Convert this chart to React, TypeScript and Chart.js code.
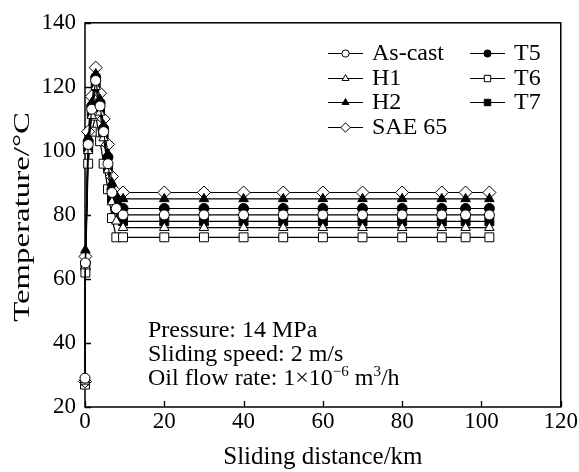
import React, { useEffect, useRef } from 'react';
import { Chart, registerables } from 'chart.js';
import { drawPoint } from 'chart.js/helpers';

Chart.register(...registerables);

// ---- data ----
const distanceKm = [0, 0.1, 0.8, 1.7, 2.7, 3.8, 4.7, 5.8, 6.8, 7.9, 9.6, 20, 30, 40, 50, 60, 70, 80, 90, 96, 102];

const asCast = [29, 65, 102, 113, 122, 114, 106, 96, 87, 82, 80, 80, 80, 80, 80, 80, 80, 80, 80, 80, 80];
const h1 = [28, 64, 100, 111, 120, 112, 104, 94, 84, 78, 76, 76, 76, 76, 76, 76, 76, 76, 76, 76, 76];
const h2 = [28.5, 69, 104, 115, 124, 116, 108, 99, 90, 86, 85, 85, 85, 85, 85, 85, 85, 85, 85, 85, 85];
const sae65 = [28, 67, 106, 117, 126, 118, 110, 102, 92, 87, 87, 87, 87, 87, 87, 87, 87, 87, 87, 87, 87];
const t5 = [28, 65, 103, 114, 123, 115, 107, 98, 88, 84, 82, 82, 82, 82, 82, 82, 82, 82, 82, 82, 82];
const t6 = [27, 62, 96, 106, 111, 103, 96, 88, 79, 73, 73, 73, 73, 73, 73, 73, 73, 73, 73, 73, 73];
const t7 = [28, 64, 101, 112, 121, 113, 105, 95, 85, 80, 78, 78, 78, 78, 78, 78, 78, 78, 78, 78, 78];

const seriesNames = ['As-cast', 'H1', 'H2', 'SAE 65', 'T5', 'T6', 'T7'];
const seriesValues = [asCast, h1, h2, sae65, t5, t6, t7];

const xTickValues = [0, 20, 40, 60, 80, 100, 120];
const yTickValues = [20, 40, 60, 80, 100, 120, 140];

const xTitle = 'Sliding distance/km';
const yTitle = 'Temperature/°C';
const noteLines = ['Pressure: 14 MPa', 'Sliding speed: 2 m/s'];

// ---- styles ----
const FONT = '"Liberation Serif", "Times New Roman", serif';
const markerStyles = [
  { pointStyle: 'circle', radius: 5, fill: '#ffffff' },
  { pointStyle: 'triangle', radius: 5.5, fill: '#ffffff' },
  { pointStyle: 'triangle', radius: 5.5, fill: '#000000' },
  { pointStyle: 'rectRot', radius: 6.5, fill: '#ffffff' },
  { pointStyle: 'circle', radius: 5, fill: '#000000' },
  { pointStyle: 'rect', radius: 6.3, fill: '#ffffff' },
  { pointStyle: 'rect', radius: 6.3, fill: '#000000' },
];
const legendColumns = [[0, 1, 2, 3], [4, 5, 6]];

const decorPlugin = {
  id: 'decor',
  beforeDatasetsDraw(chart: any) {
    const { ctx, chartArea: a, scales } = chart;
    ctx.save();
    ctx.strokeStyle = '#000';
    ctx.lineWidth = 1.5;
    ctx.strokeRect(a.left, a.top, a.right - a.left, a.bottom - a.top);
    ctx.lineWidth = 1.3;
    ctx.beginPath();
    for (const v of yTickValues) {
      const py = Math.round(scales.y.getPixelForValue(v)) + 0.5;
      ctx.moveTo(a.left, py);
      ctx.lineTo(a.left + 6, py);
    }
    for (const v of xTickValues) {
      const px = Math.round(scales.x.getPixelForValue(v)) + 0.5;
      ctx.moveTo(px, a.bottom);
      ctx.lineTo(px, a.bottom - 6);
    }
    ctx.stroke();
    ctx.restore();
  },
  afterDraw(chart: any) {
    const { ctx, chartArea: a } = chart;
    ctx.save();
    // y-axis title (stretched along its length like the original)
    ctx.save();
    ctx.translate(23, (a.top + a.bottom) / 2 + 2);
    ctx.rotate(-Math.PI / 2);
    ctx.scale(1.37, 1);
    ctx.font = `24px ${FONT}`;
    ctx.fillStyle = '#000';
    ctx.textAlign = 'center';
    ctx.textBaseline = 'middle';
    ctx.fillText(yTitle, 0, 0);
    ctx.restore();
    // legend
    const colX = [328, 470];
    const rowY = [53, 78, 102, 127];
    ctx.font = `24px ${FONT}`;
    ctx.textBaseline = 'middle';
    ctx.textAlign = 'left';
    legendColumns.forEach((col, ci) => {
      col.forEach((si, ri) => {
        const x0 = colX[ci];
        const y = rowY[ri];
        ctx.strokeStyle = '#000';
        ctx.lineWidth = 1.2;
        ctx.beginPath();
        ctx.moveTo(x0, y + 0.5);
        ctx.lineTo(x0 + 35, y + 0.5);
        ctx.stroke();
        const m = markerStyles[si];
        ctx.fillStyle = m.fill;
        ctx.strokeStyle = '#000';
        ctx.lineWidth = 1;
        drawPoint(ctx, { pointStyle: m.pointStyle, radius: m.radius * 0.72, rotation: 0, borderWidth: 1 } as any, x0 + 17.5, y + 0.5);
        ctx.fillStyle = '#000';
        ctx.fillText(seriesNames[si], x0 + 44, y + 1);
      });
    });
    // note
    ctx.textBaseline = 'alphabetic';
    ctx.fillStyle = '#000';
    const nx = 148;
    const baselines = [337, 361, 385];
    noteLines.forEach((t, i) => ctx.fillText(t, nx, baselines[i]));
    let x = nx;
    const y3 = baselines[2];
    const seg = (t: string, size: number, dy: number) => {
      ctx.font = `${size}px ${FONT}`;
      ctx.fillText(t, x, y3 + dy);
      x += ctx.measureText(t).width;
    };
    seg('Oil flow rate: 1×10', 24, 0);
    seg('−6', 15, -9);
    seg(' m', 24, 0);
    seg('3', 15, -9);
    seg('/h', 24, 0);
    ctx.restore();
  },
};

export default function App() {
  const ref = useRef<HTMLCanvasElement | null>(null);
  useEffect(() => {
    const canvas = ref.current;
    if (!canvas) return;
    const datasets = seriesValues.map((vals, i) => ({
      label: seriesNames[i],
      data: vals.map((v, j) => ({ x: distanceKm[j], y: v })),
      borderColor: '#000000',
      borderWidth: 1.2,
      backgroundColor: markerStyles[i].fill,
      pointStyle: markerStyles[i].pointStyle as any,
      pointRadius: markerStyles[i].radius,
      pointBorderWidth: 1,
      pointBorderColor: '#000000',
      pointBackgroundColor: markerStyles[i].fill,
      tension: 0,
      fill: false,
      clip: false as any,
    }));
    const chart = new Chart(canvas, {
      type: 'line',
      data: { datasets },
      options: {
        animation: false,
        responsive: false,
        devicePixelRatio: 1,
        layout: { padding: { left: 0, right: 12, top: 19, bottom: 0 } },
        plugins: { legend: { display: false }, tooltip: { enabled: false } },
        scales: {
          x: {
            type: 'linear',
            min: xTickValues[0],
            max: xTickValues[xTickValues.length - 1],
            grid: { display: false, drawTicks: false },
            border: { display: false },
            afterBuildTicks: (s: any) => { s.ticks = xTickValues.map((v) => ({ value: v })); },
            afterFit: (s: any) => { s.height = 65; },
            ticks: { color: '#000', font: { family: FONT, size: 23 }, padding: 1, maxRotation: 0 },
            title: { display: true, text: xTitle, color: '#000', font: { family: FONT, size: 25 }, padding: { top: 0, bottom: 0 } },
          },
          y: {
            type: 'linear',
            min: yTickValues[0],
            max: yTickValues[yTickValues.length - 1],
            grid: { display: false, drawTicks: false },
            border: { display: false },
            afterBuildTicks: (s: any) => { s.ticks = yTickValues.map((v) => ({ value: v })); },
            afterFit: (s: any) => { s.width = 85; },
            ticks: { color: '#000', font: { family: FONT, size: 23 }, padding: 9 },
            title: { display: false, text: yTitle },
          },
        },
      },
      plugins: [decorPlugin],
    });
    return () => chart.destroy();
  }, []);
  return (
    <div style={{ position: 'absolute', left: 0, top: 0, width: 579, height: 472, background: '#fff' }}>
      <canvas ref={ref} width={579} height={472} style={{ width: 579, height: 472, display: 'block' }} />
    </div>
  );
}
